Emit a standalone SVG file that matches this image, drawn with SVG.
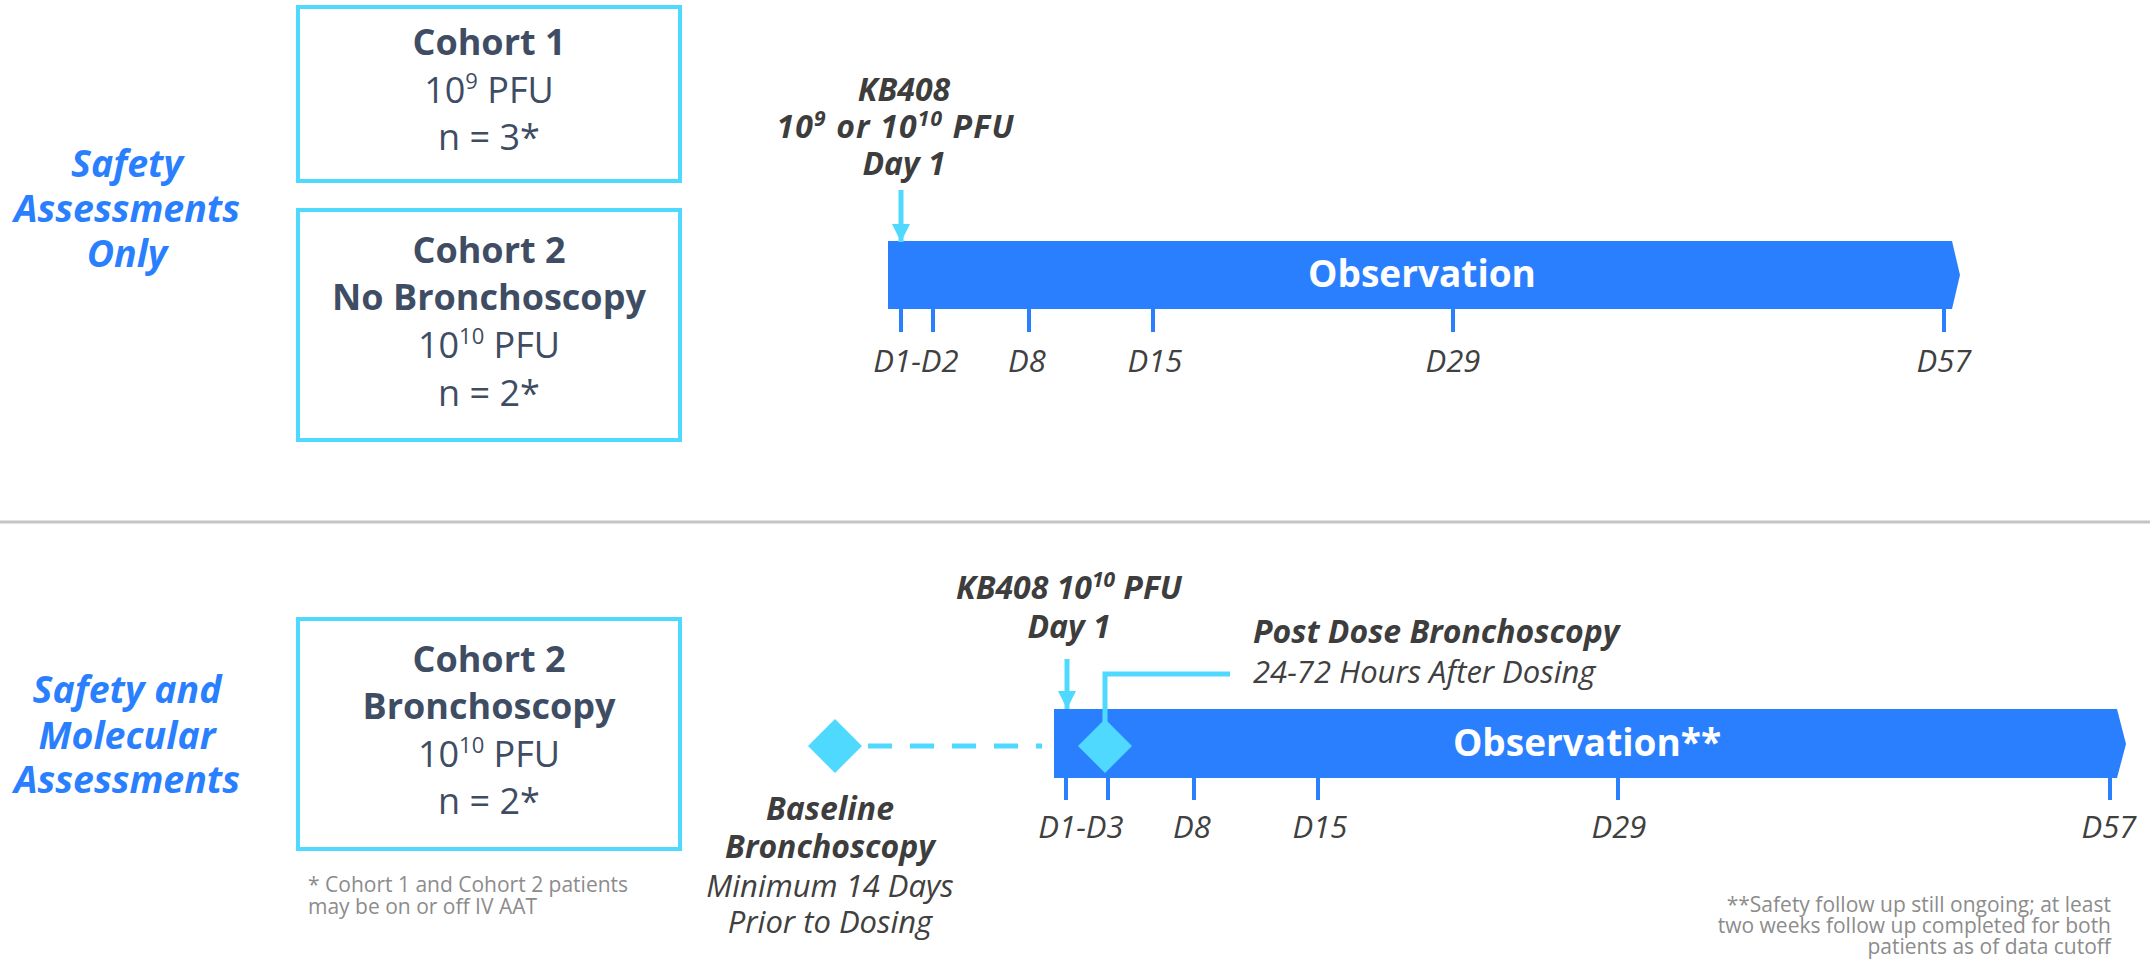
<svg xmlns="http://www.w3.org/2000/svg" width="2150" height="960" viewBox="0 0 2150 960">
<style>
.box{fill:#ffffff;stroke:#4fd9ff;stroke-width:4}
.ct{font-family:'Open Sans','Liberation Sans',sans-serif;font-size:36px;fill:#3e4d63;text-anchor:middle}
.b{font-weight:700}
.r{font-weight:400}
.cat{font-family:'Open Sans','Liberation Sans',sans-serif;font-style:italic;font-weight:700;font-size:37.5px;fill:#2a7fff;text-anchor:middle}
.bar{fill:#2a7fff}
.obs{font-family:'Open Sans','Liberation Sans',sans-serif;font-weight:700;font-size:37px;fill:#ffffff;text-anchor:middle}
.tick{stroke:#2a7fff;stroke-width:4}
.dl{font-family:'Open Sans','Liberation Sans',sans-serif;font-style:italic;font-weight:400;font-size:31px;fill:#404040;text-anchor:middle}
.kb{font-family:'Open Sans','Liberation Sans',sans-serif;font-style:italic;font-weight:700;font-size:32px;fill:#3d3d3d;text-anchor:middle}
.it{font-family:'Open Sans','Liberation Sans',sans-serif;font-style:italic;font-weight:400;font-size:31px;fill:#404040}
.cy{stroke:#4fd9ff;stroke-width:5;fill:none}
.dia{fill:#4fd9ff}
.fn{font-family:'Open Sans','Liberation Sans',sans-serif;font-weight:400;font-size:21px;fill:#8c8c8c}
</style>
<defs>
<marker id="ah" markerUnits="userSpaceOnUse" markerWidth="20" markerHeight="20" viewBox="0 -10 18 20" refX="18" refY="0" orient="auto">
<path d="M0,-9 L18,0 L0,9 z" fill="#4fd9ff"/>
</marker>
</defs>

<line id="separator" x1="0" y1="522" x2="2150" y2="522" stroke="#c4c4c4" stroke-width="3"/>

<g id="label-safety-only">
<text class="cat" x="127" y="177">Safety</text>
<text class="cat" x="127" y="222">Assessments</text>
<text class="cat" x="127" y="267">Only</text>
</g>

<g id="label-safety-molecular">
<text class="cat" x="127" y="703">Safety and</text>
<text class="cat" x="127" y="749">Molecular</text>
<text class="cat" x="127" y="793">Assessments</text>
</g>

<g id="cohort1">
<rect class="box" x="298" y="7" width="382" height="174"/>
<text class="ct b" x="489" y="55">Cohort 1</text>
<text class="ct r" x="489" y="103">10<tspan font-size="22" dy="-14">9</tspan><tspan dy="14"> PFU</tspan></text>
<text class="ct r" x="489" y="150">n = 3*</text>
</g>

<g id="cohort2-nobronch">
<rect class="box" x="298" y="210" width="382" height="230"/>
<text class="ct b" x="489" y="263">Cohort 2</text>
<text class="ct b" x="489" y="310">No Bronchoscopy</text>
<text class="ct r" x="489" y="358">10<tspan font-size="22" dy="-14">10</tspan><tspan dy="14"> PFU</tspan></text>
<text class="ct r" x="489" y="406">n = 2*</text>
</g>

<g id="cohort2-bronch">
<rect class="box" x="298" y="619" width="382" height="230"/>
<text class="ct b" x="489" y="672">Cohort 2</text>
<text class="ct b" x="489" y="719">Bronchoscopy</text>
<text class="ct r" x="489" y="767">10<tspan font-size="22" dy="-14">10</tspan><tspan dy="14"> PFU</tspan></text>
<text class="ct r" x="489" y="814">n = 2*</text>
</g>

<g id="footnote-left">
<text class="fn" x="308" y="892">* Cohort 1 and Cohort 2 patients</text>
<text class="fn" x="308" y="914">may be on or off IV AAT</text>
</g>

<g id="timeline1">
<polygon class="bar" points="888,241 1952,241 1960,275 1952,309 888,309"/>
<text class="obs" x="1422" y="287">Observation</text>
<line class="tick" x1="901" y1="309" x2="901" y2="332"/>
<line class="tick" x1="933" y1="309" x2="933" y2="332"/>
<line class="tick" x1="1029" y1="309" x2="1029" y2="332"/>
<line class="tick" x1="1153" y1="309" x2="1153" y2="332"/>
<line class="tick" x1="1453" y1="309" x2="1453" y2="332"/>
<line class="tick" x1="1944" y1="309" x2="1944" y2="332"/>
<text class="dl" x="916" y="372">D1-D2</text>
<text class="dl" x="1027" y="372">D8</text>
<text class="dl" x="1155" y="372">D15</text>
<text class="dl" x="1453" y="372">D29</text>
<text class="dl" x="1944" y="372">D57</text>
</g>

<g id="dose-label-1">
<text class="kb" x="904" y="101">KB408</text>
<text class="kb" x="895" y="138" textLength="237" lengthAdjust="spacing">10<tspan font-size="21" dy="-12">9</tspan><tspan dy="12"> or 10</tspan><tspan font-size="21" dy="-12">10</tspan><tspan dy="12"> PFU</tspan></text>
<text class="kb" x="904" y="175">Day 1</text>
</g>

<g id="timeline2">
<polygon class="bar" points="1054,709 2117,709 2126,744 2117,778 1054,778"/>
<text class="obs" x="1587" y="756">Observation**</text>
<line class="tick" x1="1066" y1="778" x2="1066" y2="800"/>
<line class="tick" x1="1108" y1="778" x2="1108" y2="800"/>
<line class="tick" x1="1194" y1="778" x2="1194" y2="800"/>
<line class="tick" x1="1318" y1="778" x2="1318" y2="800"/>
<line class="tick" x1="1618" y1="778" x2="1618" y2="800"/>
<line class="tick" x1="2110" y1="778" x2="2110" y2="800"/>
<text class="dl" x="1081" y="838">D1-D3</text>
<text class="dl" x="1192" y="838">D8</text>
<text class="dl" x="1320" y="838">D15</text>
<text class="dl" x="1619" y="838">D29</text>
<text class="dl" x="2109" y="838">D57</text>
</g>

<g id="dose-label-2">
<text class="kb" x="1069" y="599">KB408 10<tspan font-size="21" dy="-12">10</tspan><tspan dy="12"> PFU</tspan></text>
<text class="kb" x="1069" y="638">Day 1</text>
</g>

<g id="post-dose">
<polygon class="dia" points="1105,719 1132,746 1105,773 1078,746"/>
<text class="kb" x="1253" y="643" style="text-anchor:start">Post Dose Bronchoscopy</text>
<text class="it" x="1253" y="683">24-72 Hours After Dosing</text>
</g>

<g id="baseline">
<polygon class="dia" points="835,719 862,746 835,773 808,746"/>
<text class="kb" x="830" y="820">Baseline</text>
<text class="kb" x="830" y="858">Bronchoscopy</text>
<text class="dl" x="830" y="897">Minimum 14 Days</text>
<text class="dl" x="830" y="933">Prior to Dosing</text>
</g>

<g id="footnote-right">
<text class="fn" x="2111" y="912" text-anchor="end">**Safety follow up still ongoing; at least</text>
<text class="fn" x="2111" y="933" text-anchor="end">two weeks follow up completed for both</text>
<text class="fn" x="2111" y="954" text-anchor="end">patients as of data cutoff</text>
</g>

<g id="connectors">
<line class="cy" x1="901" y1="190" x2="901" y2="242" marker-end="url(#ah)"/>
<line class="cy" x1="1067" y1="659" x2="1067" y2="709" marker-end="url(#ah)"/>
<path class="cy" d="M1230,674 H1105 V722" stroke-width="6"/>
<line class="cy" x1="868" y1="746" x2="1042" y2="746" stroke-width="6" stroke-dasharray="24 18"/>
</g>
</svg>
